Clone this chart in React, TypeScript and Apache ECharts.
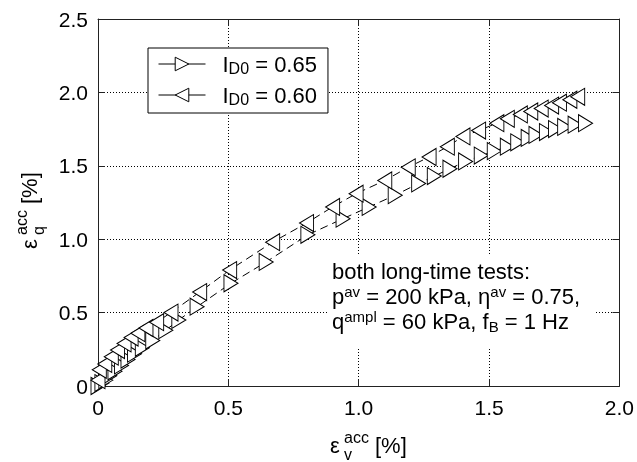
import React, { useEffect, useRef } from "react";
import * as echarts from "echarts";

const FONT = "'Liberation Sans', Arial, Helvetica, sans-serif";

const xTicks = [0, 0.5, 1.0, 1.5, 2.0];
const yTicks = [0, 0.5, 1.0, 1.5, 2.0, 2.5];

const legendValues = ["0.65", "0.60"];
const seriesNames = ["ID0 = 0.65", "ID0 = 0.60"];

// I_D0 = 0.65 (right-pointing triangles)
const ev065 = [0.0, 0.015, 0.03, 0.045, 0.065, 0.09, 0.115, 0.14, 0.17, 0.21, 0.26, 0.31, 0.38, 0.51, 0.645, 0.805, 0.94, 1.04, 1.14, 1.23, 1.29, 1.35, 1.41, 1.47, 1.52, 1.57, 1.61, 1.65, 1.68, 1.72, 1.755, 1.79, 1.83, 1.87];
const eq065 = [0.0, 0.02, 0.04, 0.07, 0.1, 0.14, 0.18, 0.22, 0.26, 0.31, 0.38, 0.45, 0.54, 0.7, 0.845, 1.03, 1.14, 1.22, 1.3, 1.38, 1.43, 1.48, 1.53, 1.57, 1.6, 1.63, 1.66, 1.69, 1.71, 1.73, 1.75, 1.765, 1.78, 1.79];

// I_D0 = 0.60 (left-pointing triangles)
const ev060 = [0.0, 0.005, 0.026, 0.051, 0.075, 0.1, 0.127, 0.153, 0.184, 0.225, 0.28, 0.39, 0.505, 0.67, 0.8, 0.9, 0.99, 1.1, 1.19, 1.27, 1.34, 1.4, 1.46, 1.53, 1.57, 1.62, 1.66, 1.7, 1.74, 1.77, 1.81, 1.84];
const eq060 = [0.04, 0.11, 0.15, 0.2, 0.245, 0.29, 0.33, 0.36, 0.395, 0.435, 0.5, 0.64, 0.79, 0.98, 1.11, 1.22, 1.31, 1.4, 1.49, 1.56, 1.63, 1.7, 1.74, 1.79, 1.82, 1.85, 1.87, 1.89, 1.91, 1.93, 1.95, 1.97];

const noteText =
  "{n|both long-time tests:}\n" +
  "{n|p}{sup|av}{n| = 200 kPa, η}{sup|av}{n| = 0.75,}\n" +
  "{n|q}{sup|ampl}{n| = 60 kPa, f}{sub|B}{n| = 1 Hz}";

const zip = (a: number[], b: number[]) => a.map((v, i) => [v, b[i]]);
const fmt = (v: number) => (v === 0 ? "0" : v.toFixed(1));

function axisName(x: number, y: number, rotation: number, sub: string) {
  const t = (tx: number, ty: number, text: string, size: number) => ({
    type: "text",
    x: tx,
    y: ty,
    style: { text, fontSize: size, fontFamily: FONT, verticalAlign: "middle", fill: "#000" },
  });
  return {
    type: "group",
    x,
    y,
    rotation,
    children: [t(0, 0, "ε", 22), t(14, -8, "acc", 16), t(14, 9, sub, 16), t(45, 0, "[%]", 22)],
  };
}

export default function App() {
  const ref = useRef<HTMLDivElement>(null);
  useEffect(() => {
    if (!ref.current) return;
    const chart = echarts.init(ref.current, undefined, { renderer: "svg" });
    const axisCommon = {
      type: "value" as const,
      axisLine: { show: true, onZero: false, lineStyle: { color: "#222", width: 1 } },
      axisTick: { show: true, inside: true, length: 7, lineStyle: { color: "#222" } },
    };
    const richMain = { fontSize: 22, lineHeight: 25, fontFamily: FONT, color: "#000" };
    const richSup = { fontSize: 15, lineHeight: 9, verticalAlign: "top", fontFamily: FONT, color: "#000" };
    const richSub = { fontSize: 15, lineHeight: 9, verticalAlign: "bottom", fontFamily: FONT, color: "#000" };
    const seriesCommon = {
      type: "line" as const,
      symbol: "triangle",
      symbolSize: [17, 14],
      lineStyle: { color: "#000", width: 1, type: [8, 5] },
      itemStyle: { color: "#fff", borderColor: "#000", borderWidth: 1 },
      clip: false,
      z: 3,
    };
    chart.setOption({
      animation: false,
      grid: { left: 98, top: 19, width: 524, height: 367, containLabel: false },
      xAxis: [
        {
          ...axisCommon,
          position: "bottom",
          min: 0,
          max: 2,
          interval: 0.5,
          axisLabel: { formatter: fmt, fontSize: 21, color: "#000", fontFamily: FONT, margin: 11 },
          splitLine: { show: true, lineStyle: { color: "#000", width: 1, type: [1, 2] } },
        },
        {
          ...axisCommon,
          position: "top",
          min: 0,
          max: 2,
          interval: 0.5,
          axisLabel: { show: false },
          splitLine: { show: false },
        },
      ],
      yAxis: [
        {
          ...axisCommon,
          position: "left",
          min: 0,
          max: 2.5,
          interval: 0.5,
          axisLabel: { formatter: fmt, fontSize: 21, color: "#000", fontFamily: FONT, margin: 10 },
          splitLine: { show: true, lineStyle: { color: "#000", width: 1, type: [1, 2] } },
        },
        {
          ...axisCommon,
          position: "right",
          min: 0,
          max: 2.5,
          interval: 0.5,
          axisLabel: { show: false },
          splitLine: { show: false },
        },
      ],
      legend: {
        orient: "vertical",
        left: 148,
        top: 48,
        padding: [5, 11, 6, 10],
        itemWidth: 47,
        itemHeight: 17,
        itemGap: 8,
        backgroundColor: "#fff",
        borderColor: "#000",
        borderWidth: 1,
        borderRadius: 0,
        selectedMode: false,
        data: seriesNames,
        lineStyle: { type: "solid", width: 1, color: "#000" },
        itemStyle: { color: "#fff", borderColor: "#000", borderWidth: 1 },
        formatter: (name: string) => {
          const i = seriesNames.indexOf(name);
          return `{g| }{n|I}{s|D0}{n| = ${legendValues[i]}}`;
        },
        textStyle: {
          fontFamily: FONT,
          rich: {
            g: { width: 12, fontSize: 22, lineHeight: 24 },
            n: { fontSize: 22, lineHeight: 24, fontFamily: FONT, color: "#000" },
            s: { fontSize: 16, lineHeight: 9, verticalAlign: "bottom", fontFamily: FONT, color: "#000" },
          },
        },
      },
      graphic: [
        {
          type: "rect",
          z: 1,
          shape: { x: 327, y: 255, width: 268, height: 92 },
          style: { fill: "#fff" },
        },
        {
          type: "text",
          z: 2,
          x: 332,
          y: 259,
          style: {
            text: noteText,
            rich: { n: richMain, sup: richSup, sub: richSub },
            fontFamily: FONT,
            fontSize: 22,
            verticalAlign: "top",
            align: "left",
          },
        },
        axisName(330, 445, 0, "v"),
        axisName(29, 249, Math.PI / 2, "q"),
      ],
      series: [
        { ...seriesCommon, name: seriesNames[0], symbolRotate: -90, data: zip(ev065, eq065) },
        { ...seriesCommon, name: seriesNames[1], symbolRotate: 90, data: zip(ev060, eq060) },
      ],
    });
    return () => chart.dispose();
  }, []);
  return <div ref={ref} style={{ position: "fixed", left: 0, top: 0, width: 637, height: 462 }} />;
}
